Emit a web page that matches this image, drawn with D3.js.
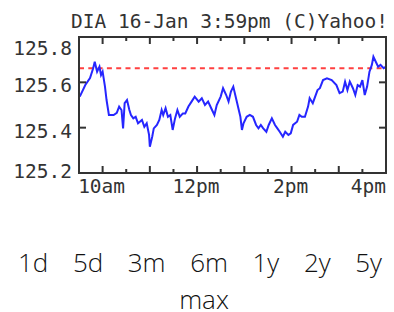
<!DOCTYPE html>
<html>
<head>
<meta charset="utf-8">
<script src="https://cdn.jsdelivr.net/npm/d3@7"></script>
<style>
  html, body { margin: 0; padding: 0; background: #fff; }
  svg { display: block; }
  .mono { font-family: 'DejaVu Sans Mono', monospace; font-size: 19.5px; fill: #333; }
  .links { font-family: 'Open Sans', 'Noto Sans', sans-serif; font-size: 26px; font-weight: 300; fill: #111; }
</style>
</head>
<body>
<svg id="chart" width="394" height="312"></svg>
<script>
// minutes after 9:30 open, DIA price
const mins = [1, 8, 14, 18, 20, 23, 26, 28, 30, 33, 35, 38, 44, 48, 51, 54, 56, 58, 61, 64,
  66, 69, 72, 75, 80, 83, 86, 89, 90, 93, 95, 99, 102, 105, 107, 110, 113, 116, 119, 122,
  125, 128, 132, 135, 139, 143, 147, 152, 156, 160, 164, 169, 172, 175, 180, 183, 187, 190, 193, 196,
  200, 205, 207, 209, 213, 217, 221, 225, 228, 231, 234, 238, 241, 245, 249, 252, 255, 259, 262, 266,
  269, 272, 277, 280, 283, 287, 291, 293, 297, 300, 303, 306, 310, 315, 321, 327, 331, 335, 338, 341,
  344, 348, 351, 354, 357, 360, 363, 366, 369, 372, 374, 377, 380, 383, 387, 390]
const price = [125.537, 125.588, 125.619, 125.662, 125.691, 125.647, 125.669, 125.632, 125.647, 125.581,
  125.522, 125.456, 125.456, 125.465, 125.493, 125.478, 125.397, 125.508, 125.522, 125.478,
  125.456, 125.441, 125.448, 125.419, 125.434, 125.404, 125.419, 125.368, 125.316, 125.360,
  125.397, 125.412, 125.434, 125.478, 125.456, 125.486, 125.448, 125.456, 125.390, 125.441,
  125.478, 125.448, 125.463, 125.463, 125.493, 125.515, 125.537, 125.515, 125.530, 125.500,
  125.515, 125.478, 125.456, 125.500, 125.537, 125.574, 125.544, 125.515, 125.559, 125.581,
  125.522, 125.448, 125.390, 125.419, 125.448, 125.456, 125.448, 125.412, 125.397, 125.412,
  125.397, 125.382, 125.412, 125.441, 125.412, 125.397, 125.382, 125.360, 125.382, 125.368,
  125.375, 125.412, 125.426, 125.456, 125.448, 125.448, 125.493, 125.530, 125.508, 125.537,
  125.566, 125.574, 125.610, 125.618, 125.610, 125.588, 125.552, 125.559, 125.603, 125.566,
  125.603, 125.574, 125.544, 125.588, 125.581, 125.610, 125.544, 125.581, 125.647, 125.677,
  125.713, 125.691, 125.669, 125.677, 125.662, 125.669]
const prevClose = 125.662
const yTicks = [125.2, 125.4, 125.6, 125.8]
const xLabels = [[30, '10am'], [150, '12pm'], [270, '2pm'], [390, '4pm']]
const title = 'DIA 16-Jan 3:59pm (C)Yahoo!'
const ranges = ['1d', '5d', '3m', '6m', '1y', '2y', '5y', 'max']

const plotL = 79, plotR = 386, plotT = 37, plotB = 173
const x = d3.scaleLinear().domain([0, 390]).range([plotL, plotR])
const y = d3.scaleLinear().domain([125.2, 125.8]).range([plotB, plotT])

const svg = d3.select('#chart')

svg.append('text').attr('class', 'mono')
  .attr('x', 388).attr('y', 28).attr('text-anchor', 'end').text(title)

// previous close
svg.append('line')
  .attr('x1', plotL).attr('x2', plotR)
  .attr('y1', y(prevClose)).attr('y2', y(prevClose))
  .attr('stroke', '#ff4040').attr('stroke-width', 2)
  .attr('stroke-dasharray', '5,4.3')

// price line
const line = d3.line().x((d, i) => x(mins[i])).y(d => y(d))
svg.append('path').datum(price)
  .attr('d', line)
  .attr('fill', 'none').attr('stroke', '#2626ff').attr('stroke-width', 2)

// frame
svg.append('rect')
  .attr('x', plotL).attr('y', plotT)
  .attr('width', plotR - plotL).attr('height', plotB - plotT)
  .attr('fill', 'none').attr('stroke', '#333').attr('stroke-width', 2)

// time ticks top and bottom
const halfHours = d3.range(30, 390, 30)
halfHours.forEach(m => {
  const len = m % 60 === 30 ? 7 : 4
  svg.append('line').attr('x1', x(m)).attr('x2', x(m))
    .attr('y1', plotB).attr('y2', plotB - len).attr('stroke', '#333').attr('stroke-width', 2)
  svg.append('line').attr('x1', x(m)).attr('x2', x(m))
    .attr('y1', plotT).attr('y2', plotT + len).attr('stroke', '#333').attr('stroke-width', 2)
})

// price ticks left and right
yTicks.slice(1, -1).forEach(v => {
  svg.append('line').attr('x1', plotL).attr('x2', plotL + 7)
    .attr('y1', y(v)).attr('y2', y(v)).attr('stroke', '#333').attr('stroke-width', 2)
  svg.append('line').attr('x1', plotR).attr('x2', plotR - 7)
    .attr('y1', y(v)).attr('y2', y(v)).attr('stroke', '#333').attr('stroke-width', 2)
})

svg.selectAll('text.ylab').data(yTicks).enter().append('text')
  .attr('class', 'mono ylab')
  .attr('x', 72).attr('text-anchor', 'end')
  .attr('y', d => Math.min(Math.max(y(d) + 10, plotT + 18), plotB + 5))
  .text(d => d.toFixed(1))

svg.selectAll('text.xlab').data(xLabels).enter().append('text')
  .attr('class', 'mono xlab')
  .attr('x', d => d[0] === 390 ? plotR : x(d[0]) - 1)
  .attr('text-anchor', d => d[0] === 390 ? 'end' : 'middle')
  .attr('y', 193)
  .text(d => d[1])

// range links, first seven spread over one line, "max" wraps
const rowL = 18, rowR = 382
const row = svg.append('g')
const items = ranges.slice(0, 7).map(r => row.append('text').attr('class', 'links').attr('y', 272).text(r))
const widths = items.map(t => t.node().getComputedTextLength())
const gap = (rowR - rowL - d3.sum(widths)) / (items.length - 1)
let cx = rowL
items.forEach((t, i) => { t.attr('x', cx); cx += widths[i] + gap })
svg.append('text').attr('class', 'links')
  .attr('x', 204).attr('y', 309).attr('text-anchor', 'middle')
  .text(ranges[7])
</script>
</body>
</html>
